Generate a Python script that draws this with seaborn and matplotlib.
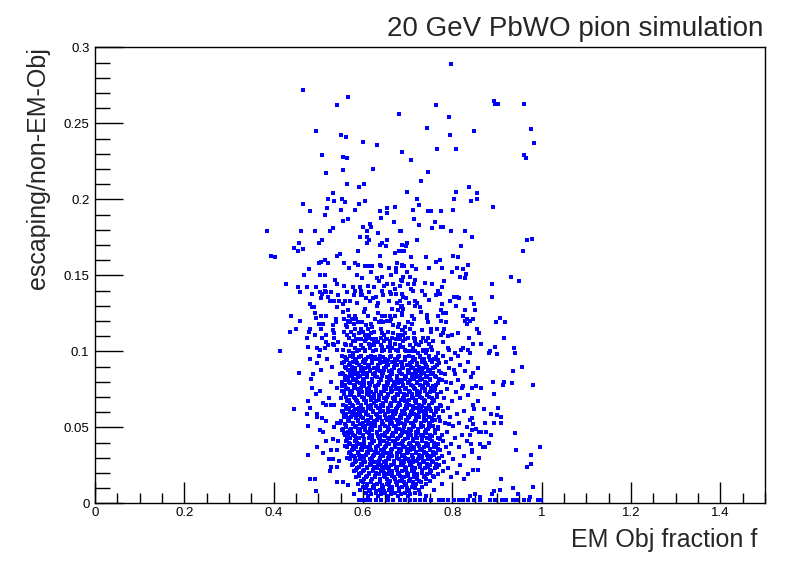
import numpy as np
import pandas as pd
import matplotlib
matplotlib.use("Agg")
import matplotlib.pyplot as plt
from matplotlib.ticker import MultipleLocator, FuncFormatter
import seaborn as sns

sns.set_style("ticks")
plt.rcParams["font.family"] = ["Liberation Sans", "DejaVu Sans"]

# (EM fraction f, escaping/non-EM-Obj)
# sparse upper part, y > 0.195
upper_pts = [
    (0.465, 0.272), (0.566, 0.267), (0.542, 0.262), (0.680, 0.256), (0.495, 0.245),
    (0.551, 0.242), (0.562, 0.241), (0.600, 0.238), (0.631, 0.236), (0.687, 0.231),
    (0.508, 0.229), (0.555, 0.228), (0.564, 0.227), (0.622, 0.220), (0.517, 0.217),
    (0.555, 0.219), (0.564, 0.210), (0.602, 0.210), (0.591, 0.208), (0.533, 0.204),
    (0.521, 0.200), (0.535, 0.199), (0.553, 0.200), (0.559, 0.198), (0.604, 0.199),
    (0.797, 0.289), (0.764, 0.262), (0.893, 0.265), (0.896, 0.263), (0.902, 0.263),
    (0.961, 0.263), (0.793, 0.254), (0.743, 0.247), (0.795, 0.242), (0.849, 0.245),
    (0.976, 0.246), (0.983, 0.237), (0.766, 0.233), (0.809, 0.233), (0.961, 0.229),
    (0.965, 0.227), (0.708, 0.226), (0.746, 0.218), (0.730, 0.212), (0.699, 0.205),
    (0.721, 0.200), (0.808, 0.205), (0.804, 0.200), (0.837, 0.208), (0.855, 0.204),
    (0.842, 0.199), (0.855, 0.200),
]

# middle band, 0.1 < y < 0.2
mid_pts = [
    (0.465, 0.197), (0.519, 0.194), (0.551, 0.193), (0.582, 0.193), (0.591, 0.197),
    (0.481, 0.192), (0.515, 0.190), (0.638, 0.192), (0.654, 0.194), (0.654, 0.191),
    (0.671, 0.195), (0.555, 0.186), (0.566, 0.187), (0.640, 0.188), (0.615, 0.184),
    (0.618, 0.182), (0.600, 0.182), (0.669, 0.185), (0.385, 0.179), (0.461, 0.179),
    (0.492, 0.179), (0.526, 0.179), (0.533, 0.181), (0.609, 0.179), (0.633, 0.178),
    (0.683, 0.179), (0.593, 0.175), (0.609, 0.175), (0.613, 0.173), (0.654, 0.173),
    (0.508, 0.173), (0.501, 0.171), (0.456, 0.171), (0.609, 0.171), (0.638, 0.170),
    (0.642, 0.171), (0.651, 0.169), (0.687, 0.170), (0.445, 0.168), (0.454, 0.166),
    (0.465, 0.167), (0.589, 0.166), (0.671, 0.165), (0.680, 0.166), (0.689, 0.166),
    (0.542, 0.163), (0.548, 0.164), (0.638, 0.163), (0.394, 0.163), (0.403, 0.162),
    (0.501, 0.158), (0.506, 0.159), (0.515, 0.160), (0.521, 0.158), (0.557, 0.158),
    (0.568, 0.155), (0.582, 0.158), (0.589, 0.157), (0.604, 0.156), (0.613, 0.156),
    (0.620, 0.156), (0.638, 0.157), (0.640, 0.156), (0.658, 0.155), (0.674, 0.155),
    (0.676, 0.158), (0.687, 0.157), (0.691, 0.156), (0.479, 0.154), (0.468, 0.150),
    (0.503, 0.150), (0.515, 0.150), (0.537, 0.147), (0.586, 0.150), (0.597, 0.148),
    (0.618, 0.152), (0.631, 0.148), (0.642, 0.149), (0.662, 0.150), (0.674, 0.152),
    (0.685, 0.147), (0.689, 0.149), (0.427, 0.144), (0.454, 0.142), (0.474, 0.142),
    (0.495, 0.142), (0.515, 0.143), (0.542, 0.144), (0.557, 0.143), (0.577, 0.142),
    (0.582, 0.140), (0.593, 0.142), (0.595, 0.140), (0.611, 0.143), (0.624, 0.142),
    (0.635, 0.146), (0.647, 0.143), (0.654, 0.144), (0.667, 0.144), (0.671, 0.141),
    (0.683, 0.143), (0.687, 0.146), (0.459, 0.139), (0.486, 0.138), (0.503, 0.139),
    (0.508, 0.138), (0.515, 0.140), (0.517, 0.139), (0.521, 0.136), (0.528, 0.139),
    (0.544, 0.137), (0.564, 0.139), (0.580, 0.137), (0.595, 0.137), (0.597, 0.137),
    (0.606, 0.135), (0.613, 0.139), (0.622, 0.135), (0.629, 0.136), (0.642, 0.140),
    (0.644, 0.137), (0.660, 0.139), (0.662, 0.138), (0.674, 0.138), (0.687, 0.138),
    (0.689, 0.136), (0.506, 0.135), (0.526, 0.133), (0.535, 0.133), (0.546, 0.133),
    (0.555, 0.131), (0.559, 0.133), (0.571, 0.133), (0.586, 0.132), (0.615, 0.133),
    (0.633, 0.132), (0.658, 0.133), (0.676, 0.132), (0.683, 0.133), (0.685, 0.130),
    (0.481, 0.131), (0.486, 0.129), (0.490, 0.129), (0.542, 0.129), (0.566, 0.127),
    (0.604, 0.128), (0.602, 0.126), (0.631, 0.130), (0.665, 0.128), (0.678, 0.127),
    (0.687, 0.129), (0.492, 0.125), (0.506, 0.123), (0.517, 0.123), (0.555, 0.126),
    (0.568, 0.123), (0.582, 0.123), (0.611, 0.123), (0.633, 0.125), (0.642, 0.123),
    (0.649, 0.123), (0.660, 0.123), (0.662, 0.121), (0.671, 0.123), (0.687, 0.125),
    (0.439, 0.123), (0.459, 0.120), (0.495, 0.122), (0.539, 0.121), (0.557, 0.121),
    (0.566, 0.120), (0.575, 0.121), (0.584, 0.121), (0.627, 0.121), (0.640, 0.120),
    (0.501, 0.118), (0.510, 0.118), (0.533, 0.117), (0.539, 0.119), (0.562, 0.117),
    (0.571, 0.119), (0.580, 0.118), (0.589, 0.119), (0.597, 0.119), (0.606, 0.117),
    (0.618, 0.118), (0.635, 0.119), (0.644, 0.119), (0.654, 0.120), (0.660, 0.120),
    (0.667, 0.117), (0.680, 0.118), (0.481, 0.115), (0.506, 0.115), (0.533, 0.114),
    (0.564, 0.116), (0.582, 0.115), (0.595, 0.115), (0.611, 0.115), (0.620, 0.116),
    (0.640, 0.115), (0.678, 0.116), (0.687, 0.114), (0.436, 0.113), (0.450, 0.115),
    (0.479, 0.113), (0.492, 0.111), (0.517, 0.111), (0.535, 0.112), (0.557, 0.113),
    (0.564, 0.111), (0.573, 0.113), (0.580, 0.111), (0.600, 0.113), (0.604, 0.111),
    (0.613, 0.111), (0.624, 0.113), (0.647, 0.111), (0.656, 0.113), (0.678, 0.111),
    (0.687, 0.111), (0.474, 0.109), (0.508, 0.109), (0.535, 0.109), (0.568, 0.109),
    (0.582, 0.107), (0.589, 0.108), (0.595, 0.108), (0.611, 0.109), (0.620, 0.108),
    (0.640, 0.109), (0.654, 0.108), (0.665, 0.109), (0.517, 0.106), (0.533, 0.105),
    (0.544, 0.106), (0.559, 0.105), (0.577, 0.107), (0.604, 0.107), (0.613, 0.105),
    (0.624, 0.106), (0.633, 0.106), (0.647, 0.107), (0.660, 0.107), (0.671, 0.105),
    (0.683, 0.108), (0.689, 0.107), (0.477, 0.103), (0.497, 0.102), (0.503, 0.101),
    (0.515, 0.102), (0.521, 0.104), (0.535, 0.104), (0.542, 0.101), (0.555, 0.101),
    (0.562, 0.104), (0.582, 0.102), (0.591, 0.101), (0.600, 0.102), (0.604, 0.101),
    (0.615, 0.102), (0.624, 0.104), (0.629, 0.101), (0.642, 0.103), (0.647, 0.101),
    (0.656, 0.103), (0.665, 0.102), (0.674, 0.101), (0.683, 0.103), (0.689, 0.103),
    (0.414, 0.100), (0.577, 0.099),
    (0.726, 0.196), (0.712, 0.193), (0.746, 0.192), (0.752, 0.192), (0.775, 0.192),
    (0.802, 0.193), (0.891, 0.195), (0.714, 0.187), (0.761, 0.185), (0.726, 0.183),
    (0.755, 0.181), (0.775, 0.182), (0.779, 0.182), (0.797, 0.179), (0.828, 0.179),
    (0.685, 0.179), (0.721, 0.173), (0.844, 0.175), (0.967, 0.173), (0.979, 0.174),
    (0.687, 0.170), (0.699, 0.171), (0.696, 0.169), (0.692, 0.166), (0.820, 0.169),
    (0.958, 0.166), (0.708, 0.162), (0.741, 0.162), (0.802, 0.163), (0.813, 0.162),
    (0.764, 0.159), (0.773, 0.160), (0.687, 0.156), (0.710, 0.156), (0.748, 0.155),
    (0.777, 0.155), (0.811, 0.155), (0.835, 0.157), (0.719, 0.154), (0.699, 0.152),
    (0.799, 0.152), (0.824, 0.154), (0.831, 0.151), (0.817, 0.149), (0.829, 0.148),
    (0.931, 0.149), (0.949, 0.146), (0.705, 0.149), (0.685, 0.147), (0.717, 0.147),
    (0.739, 0.145), (0.755, 0.144), (0.782, 0.146), (0.889, 0.144), (0.701, 0.144),
    (0.714, 0.144), (0.708, 0.141), (0.712, 0.140), (0.732, 0.140), (0.768, 0.140),
    (0.777, 0.142), (0.764, 0.137), (0.773, 0.138), (0.739, 0.137), (0.687, 0.138),
    (0.804, 0.136), (0.811, 0.136), (0.815, 0.135), (0.795, 0.133), (0.842, 0.135),
    (0.889, 0.136), (0.696, 0.135), (0.703, 0.132), (0.717, 0.133), (0.721, 0.132),
    (0.748, 0.134), (0.777, 0.131), (0.808, 0.130), (0.849, 0.131), (0.687, 0.130),
    (0.717, 0.130), (0.728, 0.129), (0.690, 0.128), (0.730, 0.126), (0.775, 0.127),
    (0.779, 0.125), (0.786, 0.125), (0.829, 0.127), (0.851, 0.127), (0.687, 0.124),
    (0.710, 0.123), (0.743, 0.124), (0.768, 0.123), (0.824, 0.123), (0.907, 0.122),
    (0.714, 0.121), (0.743, 0.122), (0.775, 0.120), (0.786, 0.119), (0.828, 0.120),
    (0.833, 0.121), (0.840, 0.120), (0.846, 0.121), (0.898, 0.119), (0.918, 0.119),
    (0.701, 0.119), (0.710, 0.118), (0.746, 0.119), (0.833, 0.118), (0.694, 0.116),
    (0.705, 0.115), (0.752, 0.115), (0.766, 0.115), (0.782, 0.115), (0.855, 0.115),
    (0.690, 0.114), (0.714, 0.112), (0.732, 0.114), (0.752, 0.113), (0.779, 0.112),
    (0.775, 0.111), (0.790, 0.110), (0.799, 0.111), (0.813, 0.112), (0.860, 0.112),
    (0.916, 0.109), (0.690, 0.111), (0.701, 0.109), (0.714, 0.109), (0.734, 0.109),
    (0.746, 0.109), (0.717, 0.107), (0.690, 0.107), (0.719, 0.105), (0.730, 0.106),
    (0.741, 0.107), (0.757, 0.107), (0.748, 0.105), (0.779, 0.106), (0.837, 0.109),
    (0.846, 0.105), (0.864, 0.105), (0.687, 0.103), (0.694, 0.101), (0.712, 0.102),
    (0.734, 0.101), (0.743, 0.101), (0.752, 0.103), (0.755, 0.101), (0.790, 0.102),
    (0.793, 0.101), (0.820, 0.101), (0.824, 0.102), (0.835, 0.101), (0.896, 0.103),
    (0.938, 0.102), (0.705, 0.100), (0.710, 0.100), (0.723, 0.099), (0.741, 0.099),
    (0.768, 0.099), (0.806, 0.099), (0.840, 0.099), (0.882, 0.099), (0.884, 0.100),
    (0.900, 0.098), (0.940, 0.099),
]

# scattered points around the dense core, y < 0.1
low_pts = [
    (0.481, 0.095), (0.501, 0.097), (0.519, 0.095), (0.497, 0.092), (0.506, 0.088),
    (0.530, 0.090), (0.456, 0.086), (0.488, 0.085), (0.483, 0.082), (0.528, 0.080),
    (0.548, 0.085), (0.503, 0.074), (0.486, 0.076), (0.495, 0.072), (0.542, 0.076),
    (0.445, 0.062), (0.477, 0.067), (0.481, 0.063), (0.474, 0.059), (0.497, 0.059),
    (0.497, 0.057), (0.510, 0.066), (0.517, 0.065), (0.524, 0.069), (0.528, 0.065),
    (0.535, 0.065), (0.508, 0.056), (0.517, 0.054), (0.477, 0.051), (0.535, 0.050),
    (0.542, 0.053), (0.503, 0.048), (0.510, 0.047), (0.533, 0.042), (0.517, 0.041),
    (0.544, 0.041), (0.497, 0.037), (0.477, 0.032), (0.510, 0.033), (0.528, 0.035),
    (0.542, 0.035), (0.524, 0.029), (0.533, 0.029), (0.546, 0.028), (0.528, 0.024),
    (0.526, 0.021), (0.542, 0.024), (0.481, 0.016), (0.492, 0.016), (0.542, 0.014),
    (0.555, 0.014), (0.566, 0.012), (0.495, 0.008), (0.580, 0.006), (0.591, 0.002),
    (0.606, 0.002),
    (0.846, 0.086), (0.936, 0.087), (0.956, 0.090), (0.891, 0.080), (0.916, 0.080),
    (0.914, 0.078), (0.934, 0.079), (0.981, 0.078), (0.822, 0.076), (0.844, 0.076),
    (0.864, 0.076), (0.893, 0.072), (0.858, 0.067), (0.871, 0.062), (0.902, 0.063),
    (0.887, 0.059), (0.900, 0.058), (0.909, 0.057), (0.849, 0.062), (0.844, 0.056),
    (0.846, 0.052), (0.873, 0.053), (0.893, 0.053), (0.909, 0.053), (0.833, 0.050),
    (0.860, 0.047), (0.864, 0.047), (0.876, 0.047), (0.887, 0.045), (0.940, 0.046),
    (0.840, 0.045), (0.844, 0.048), (0.882, 0.040), (0.842, 0.039), (0.862, 0.039),
    (0.869, 0.037), (0.873, 0.037), (0.860, 0.030), (0.943, 0.035), (0.996, 0.037),
    (0.976, 0.032), (0.967, 0.024), (0.976, 0.026), (0.844, 0.034), (0.846, 0.022),
    (0.858, 0.022), (0.811, 0.020), (0.826, 0.016), (0.909, 0.016), (0.981, 0.011),
    (0.936, 0.010), (0.947, 0.006), (0.907, 0.009), (0.893, 0.008), (0.889, 0.006),
    (0.862, 0.004), (0.851, 0.006), (0.840, 0.005), (0.974, 0.004), (0.999, 0.002),
]

# dense core, one list of f values per escaping-fraction level
core_rows = [
    (0.097, [0.552, 0.571, 0.596, 0.617, 0.639, 0.662, 0.681, 0.703, 0.727, 0.748, 0.779, 0.812]),
    (0.095, [0.563, 0.585, 0.606, 0.628, 0.650, 0.671, 0.693, 0.716, 0.737, 0.760, 0.798]),
    (0.093, [0.557, 0.578, 0.600, 0.621, 0.645, 0.666, 0.686, 0.709, 0.731, 0.754, 0.786, 0.836]),
    (0.091, [0.569, 0.590, 0.611, 0.634, 0.655, 0.677, 0.698, 0.720, 0.742, 0.766, 0.817]),
    (0.089, [0.561, 0.583, 0.604, 0.625, 0.648, 0.669, 0.690, 0.713, 0.735, 0.757, 0.792, 0.857]),
    (0.087, [0.573, 0.595, 0.616, 0.638, 0.659, 0.680, 0.703, 0.724, 0.746, 0.771, 0.829]),
    (0.085, [0.555, 0.580, 0.601, 0.622, 0.643, 0.664, 0.687, 0.709, 0.730, 0.752, 0.783, 0.805]),
    (0.083, [0.567, 0.589, 0.610, 0.632, 0.653, 0.675, 0.697, 0.718, 0.740, 0.763, 0.841]),
    (0.081, [0.559, 0.577, 0.599, 0.620, 0.641, 0.663, 0.684, 0.706, 0.728, 0.750, 0.776, 0.813]),
    (0.079, [0.571, 0.593, 0.614, 0.636, 0.657, 0.679, 0.700, 0.722, 0.744, 0.768, 0.797]),
    (0.077, [0.553, 0.582, 0.603, 0.626, 0.647, 0.668, 0.690, 0.712, 0.734, 0.756, 0.824, 0.853]),
    (0.075, [0.566, 0.588, 0.609, 0.630, 0.652, 0.673, 0.695, 0.717, 0.739, 0.761, 0.787]),
    (0.073, [0.558, 0.576, 0.597, 0.619, 0.640, 0.662, 0.683, 0.705, 0.727, 0.749, 0.774, 0.808]),
    (0.071, [0.570, 0.591, 0.613, 0.635, 0.656, 0.678, 0.699, 0.721, 0.743, 0.766, 0.835]),
    (0.069, [0.550, 0.581, 0.602, 0.624, 0.646, 0.667, 0.689, 0.711, 0.732, 0.754, 0.781, 0.818]),
    (0.067, [0.564, 0.586, 0.607, 0.629, 0.651, 0.672, 0.694, 0.716, 0.738, 0.759, 0.800]),
    (0.065, [0.556, 0.575, 0.596, 0.618, 0.640, 0.661, 0.683, 0.704, 0.726, 0.748, 0.772, 0.846]),
    (0.063, [0.568, 0.590, 0.612, 0.633, 0.655, 0.676, 0.698, 0.720, 0.741, 0.764, 0.791]),
    (0.061, [0.552, 0.579, 0.601, 0.622, 0.644, 0.666, 0.687, 0.709, 0.731, 0.752, 0.779, 0.827]),
    (0.059, [0.563, 0.585, 0.606, 0.628, 0.650, 0.671, 0.693, 0.715, 0.736, 0.758, 0.810]),
    (0.057, [0.557, 0.574, 0.595, 0.617, 0.639, 0.660, 0.682, 0.703, 0.725, 0.747, 0.770, 0.795]),
    (0.055, [0.567, 0.589, 0.611, 0.632, 0.654, 0.675, 0.697, 0.719, 0.740, 0.762, 0.839]),
    (0.053, [0.549, 0.578, 0.600, 0.621, 0.643, 0.665, 0.686, 0.708, 0.730, 0.751, 0.784, 0.816]),
    (0.051, [0.562, 0.584, 0.605, 0.627, 0.649, 0.670, 0.692, 0.714, 0.735, 0.757, 0.801]),
    (0.049, [0.555, 0.573, 0.594, 0.616, 0.638, 0.659, 0.681, 0.702, 0.724, 0.746, 0.769, 0.852]),
    (0.047, [0.566, 0.588, 0.610, 0.631, 0.653, 0.674, 0.696, 0.718, 0.739, 0.761, 0.789]),
    (0.045, [0.559, 0.577, 0.599, 0.620, 0.642, 0.664, 0.685, 0.707, 0.729, 0.750, 0.776, 0.822]),
    (0.043, [0.570, 0.592, 0.614, 0.635, 0.657, 0.679, 0.700, 0.722, 0.744, 0.767, 0.806]),
    (0.041, [0.561, 0.581, 0.603, 0.625, 0.646, 0.668, 0.690, 0.711, 0.733, 0.755, 0.780, 0.833]),
    (0.039, [0.572, 0.594, 0.615, 0.637, 0.658, 0.680, 0.702, 0.724, 0.745, 0.768, 0.797]),
    (0.037, [0.564, 0.585, 0.607, 0.629, 0.650, 0.672, 0.694, 0.715, 0.737, 0.759, 0.785, 0.814]),
    (0.035, [0.575, 0.597, 0.619, 0.640, 0.662, 0.684, 0.705, 0.727, 0.749, 0.773, 0.845]),
    (0.033, [0.568, 0.589, 0.611, 0.633, 0.654, 0.676, 0.698, 0.719, 0.741, 0.763, 0.793]),
    (0.031, [0.579, 0.601, 0.623, 0.644, 0.666, 0.688, 0.709, 0.731, 0.753, 0.777, 0.826]),
    (0.029, [0.571, 0.593, 0.615, 0.637, 0.658, 0.680, 0.701, 0.723, 0.745, 0.766, 0.802]),
    (0.027, [0.583, 0.605, 0.626, 0.648, 0.670, 0.691, 0.713, 0.735, 0.757, 0.782]),
    (0.025, [0.576, 0.597, 0.619, 0.641, 0.662, 0.684, 0.706, 0.727, 0.749, 0.771, 0.818]),
    (0.023, [0.587, 0.609, 0.631, 0.652, 0.674, 0.696, 0.717, 0.739, 0.761, 0.790]),
    (0.021, [0.580, 0.601, 0.623, 0.645, 0.666, 0.688, 0.710, 0.731, 0.753, 0.779]),
    (0.019, [0.591, 0.613, 0.635, 0.656, 0.678, 0.700, 0.721, 0.743, 0.768, 0.836]),
    (0.017, [0.585, 0.606, 0.627, 0.649, 0.670, 0.692, 0.714, 0.736, 0.760, 0.797]),
    (0.015, [0.596, 0.617, 0.639, 0.661, 0.682, 0.704, 0.726, 0.750]),
    (0.013, [0.589, 0.610, 0.632, 0.653, 0.675, 0.697, 0.718, 0.742, 0.776]),
    (0.011, [0.601, 0.622, 0.644, 0.666, 0.687, 0.709, 0.733]),
    (0.009, [0.594, 0.615, 0.637, 0.658, 0.680, 0.702, 0.725, 0.758]),
    (0.007, [0.606, 0.628, 0.649, 0.671, 0.693, 0.716]),
    (0.005, [0.612, 0.634, 0.656, 0.678, 0.701, 0.741]),
    (0.002, [0.600, 0.615, 0.628, 0.641, 0.655, 0.668, 0.683, 0.694, 0.705, 0.716,
             0.727, 0.739, 0.752, 0.770, 0.779, 0.791, 0.803, 0.815, 0.824, 0.836,
             0.848, 0.862, 0.884, 0.896, 0.911, 0.920, 0.936, 0.945, 0.961, 0.972,
             0.992]),
]

# second layer of the core, fills the gaps between the rows above
core_rows_2 = [
    (0.096, [0.560, 0.577, 0.592, 0.611, 0.626, 0.645, 0.660, 0.679, 0.694, 0.713, 0.728, 0.747, 0.764]),
    (0.092, [0.553, 0.570, 0.586, 0.604, 0.620, 0.637, 0.653, 0.671, 0.687, 0.705, 0.721, 0.739, 0.771]),
    (0.088, [0.566, 0.581, 0.599, 0.615, 0.632, 0.648, 0.666, 0.682, 0.700, 0.716, 0.733, 0.750, 0.803]),
    (0.084, [0.560, 0.575, 0.593, 0.609, 0.626, 0.642, 0.660, 0.676, 0.694, 0.710, 0.727, 0.744, 0.761]),
    (0.080, [0.554, 0.569, 0.587, 0.603, 0.620, 0.636, 0.654, 0.670, 0.688, 0.704, 0.721, 0.738, 0.786]),
    (0.076, [0.563, 0.580, 0.596, 0.614, 0.630, 0.647, 0.663, 0.681, 0.697, 0.715, 0.731, 0.752]),
    (0.072, [0.557, 0.574, 0.590, 0.608, 0.624, 0.641, 0.657, 0.675, 0.691, 0.709, 0.725, 0.743, 0.765]),
    (0.068, [0.568, 0.584, 0.602, 0.618, 0.635, 0.651, 0.669, 0.685, 0.703, 0.719, 0.737, 0.757]),
    (0.064, [0.562, 0.578, 0.596, 0.612, 0.629, 0.645, 0.663, 0.679, 0.697, 0.713, 0.731, 0.748, 0.774]),
    (0.060, [0.556, 0.572, 0.590, 0.606, 0.623, 0.639, 0.657, 0.673, 0.691, 0.707, 0.725, 0.742, 0.763]),
    (0.056, [0.566, 0.584, 0.600, 0.617, 0.633, 0.651, 0.667, 0.685, 0.701, 0.719, 0.736, 0.755]),
    (0.052, [0.560, 0.578, 0.594, 0.611, 0.627, 0.645, 0.661, 0.679, 0.695, 0.713, 0.730, 0.747, 0.792]),
    (0.048, [0.554, 0.572, 0.588, 0.605, 0.621, 0.639, 0.655, 0.673, 0.689, 0.707, 0.724, 0.741, 0.762]),
    (0.044, [0.566, 0.582, 0.599, 0.615, 0.633, 0.649, 0.667, 0.683, 0.701, 0.718, 0.735, 0.754]),
    (0.040, [0.569, 0.586, 0.603, 0.620, 0.637, 0.654, 0.671, 0.688, 0.705, 0.722, 0.740, 0.758]),
    (0.036, [0.580, 0.596, 0.613, 0.630, 0.647, 0.664, 0.681, 0.698, 0.715, 0.732, 0.750, 0.769]),
    (0.032, [0.573, 0.590, 0.607, 0.624, 0.641, 0.658, 0.675, 0.692, 0.709, 0.726, 0.744, 0.760]),
    (0.028, [0.584, 0.601, 0.618, 0.635, 0.652, 0.669, 0.686, 0.703, 0.720, 0.737, 0.754]),
    (0.024, [0.592, 0.608, 0.625, 0.642, 0.659, 0.676, 0.693, 0.710, 0.727, 0.745, 0.766]),
    (0.020, [0.596, 0.613, 0.630, 0.647, 0.664, 0.681, 0.698, 0.715, 0.732, 0.749]),
    (0.016, [0.603, 0.620, 0.637, 0.654, 0.671, 0.688, 0.705, 0.722, 0.740]),
    (0.012, [0.608, 0.625, 0.642, 0.659, 0.676, 0.693, 0.711]),
    (0.008, [0.613, 0.630, 0.647, 0.664, 0.681, 0.698]),
]

# third layer, thickens the core and the band just above it
core_rows_3 = [
    (0.112, [0.592, 0.617, 0.643, 0.668, 0.694]),
    (0.108, [0.585, 0.607, 0.629, 0.651, 0.673, 0.695, 0.716]),
    (0.104, [0.574, 0.596, 0.618, 0.640, 0.661, 0.683, 0.705, 0.726]),
    (0.100, [0.568, 0.586, 0.605, 0.623, 0.642, 0.660, 0.679, 0.697, 0.716, 0.735]),
    (0.094, [0.565, 0.583, 0.602, 0.620, 0.639, 0.657, 0.676, 0.694, 0.713, 0.731, 0.750, 0.768]),
    (0.090, [0.559, 0.576, 0.596, 0.614, 0.633, 0.651, 0.670, 0.688, 0.707, 0.725, 0.744, 0.762]),
    (0.086, [0.552, 0.571, 0.589, 0.608, 0.626, 0.645, 0.663, 0.682, 0.700, 0.719, 0.737, 0.756, 0.775]),
    (0.082, [0.566, 0.584, 0.603, 0.621, 0.640, 0.658, 0.677, 0.695, 0.714, 0.732, 0.751, 0.770]),
    (0.078, [0.560, 0.579, 0.597, 0.616, 0.634, 0.653, 0.671, 0.690, 0.708, 0.727, 0.745, 0.764]),
    (0.074, [0.554, 0.572, 0.591, 0.609, 0.628, 0.646, 0.665, 0.683, 0.702, 0.720, 0.739, 0.758]),
    (0.070, [0.561, 0.580, 0.598, 0.617, 0.635, 0.654, 0.672, 0.691, 0.709, 0.728, 0.747, 0.766]),
    (0.066, [0.570, 0.588, 0.607, 0.625, 0.644, 0.662, 0.681, 0.699, 0.718, 0.736, 0.755]),
    (0.062, [0.563, 0.582, 0.600, 0.619, 0.637, 0.656, 0.674, 0.693, 0.711, 0.730, 0.749, 0.767]),
    (0.058, [0.557, 0.575, 0.594, 0.612, 0.631, 0.649, 0.668, 0.686, 0.705, 0.723, 0.742, 0.760]),
    (0.054, [0.551, 0.569, 0.588, 0.606, 0.625, 0.643, 0.662, 0.680, 0.699, 0.717, 0.736, 0.754, 0.773]),
    (0.050, [0.563, 0.581, 0.600, 0.618, 0.637, 0.655, 0.674, 0.692, 0.711, 0.729, 0.748, 0.767]),
    (0.046, [0.557, 0.576, 0.594, 0.613, 0.631, 0.650, 0.668, 0.687, 0.705, 0.724, 0.742, 0.761]),
    (0.042, [0.565, 0.584, 0.602, 0.621, 0.639, 0.658, 0.676, 0.695, 0.713, 0.732, 0.750, 0.772]),
    (0.038, [0.560, 0.578, 0.597, 0.615, 0.634, 0.652, 0.671, 0.689, 0.708, 0.726, 0.745, 0.763]),
    (0.034, [0.571, 0.589, 0.608, 0.626, 0.645, 0.663, 0.682, 0.700, 0.719, 0.737, 0.756]),
    (0.030, [0.565, 0.583, 0.602, 0.620, 0.639, 0.657, 0.676, 0.694, 0.713, 0.731, 0.750, 0.770]),
    (0.026, [0.578, 0.596, 0.615, 0.633, 0.652, 0.670, 0.689, 0.707, 0.726, 0.744, 0.763]),
    (0.022, [0.585, 0.603, 0.622, 0.640, 0.659, 0.677, 0.696, 0.714, 0.733, 0.751]),
    (0.018, [0.590, 0.609, 0.627, 0.646, 0.664, 0.683, 0.701, 0.720, 0.738, 0.757]),
    (0.014, [0.600, 0.618, 0.637, 0.655, 0.674, 0.692, 0.711, 0.729]),
    (0.010, [0.606, 0.624, 0.643, 0.661, 0.680, 0.698, 0.717]),
    (0.006, [0.619, 0.640, 0.662, 0.684, 0.706, 0.727]),
]

title = "20 GeV PbWO pion simulation"
xlabel = "EM Obj fraction f"
ylabel = "escaping/non-EM-Obj"

pts = upper_pts + mid_pts + low_pts
for yv, xs in core_rows + core_rows_2 + core_rows_3:
    pts += [(xv, yv) for xv in xs]
df = pd.DataFrame(pts, columns=["f", "esc"])

fig = plt.figure(figsize=(7.96, 5.72), dpi=100)
ax = fig.add_axes([95 / 796, 1 - 503.3 / 572, 670 / 796, 456 / 572])

# crisp 4 px squares like the ROOT marker
sns.scatterplot(data=df, x="f", y="esc", marker="s", s=10.5, color="#0000ff",
                linewidth=0, antialiased=False, legend=False, ax=ax)

ax.set_xlim(0, 1.5)
ax.set_ylim(0, 0.3)
ax.xaxis.set_major_locator(MultipleLocator(0.2))
ax.xaxis.set_minor_locator(MultipleLocator(0.05))
ax.yaxis.set_major_locator(MultipleLocator(0.05))
ax.yaxis.set_minor_locator(MultipleLocator(0.01))
fmt = FuncFormatter(lambda v, p: "%g" % round(v, 4))
ax.xaxis.set_major_formatter(fmt)
ax.yaxis.set_major_formatter(fmt)

ax.tick_params(axis="both", which="both", direction="in", top=False, right=False,
               width=1, colors="black", labelsize=9.5)
ax.tick_params(axis="x", which="major", length=15, pad=3)
ax.tick_params(axis="x", which="minor", length=7)
ax.tick_params(axis="y", which="major", length=20, pad=4)
ax.tick_params(axis="y", which="minor", length=11)
for sp in ax.spines.values():
    sp.set_visible(True)
    sp.set_linewidth(1)
    sp.set_color("black")
ax.set_xlabel("")
ax.set_ylabel("")

fig.text(763 / 796, 1 - 36 / 572, title, ha="right", va="baseline", fontsize=20)
fig.text(757 / 796, 1 - 546.7 / 572, xlabel, ha="right", va="baseline", fontsize=18)
fig.text(38 / 796, 1 - 47 / 572, ylabel, ha="center", va="top", rotation=90, fontsize=18)

fig.savefig("out.png", dpi=100)
